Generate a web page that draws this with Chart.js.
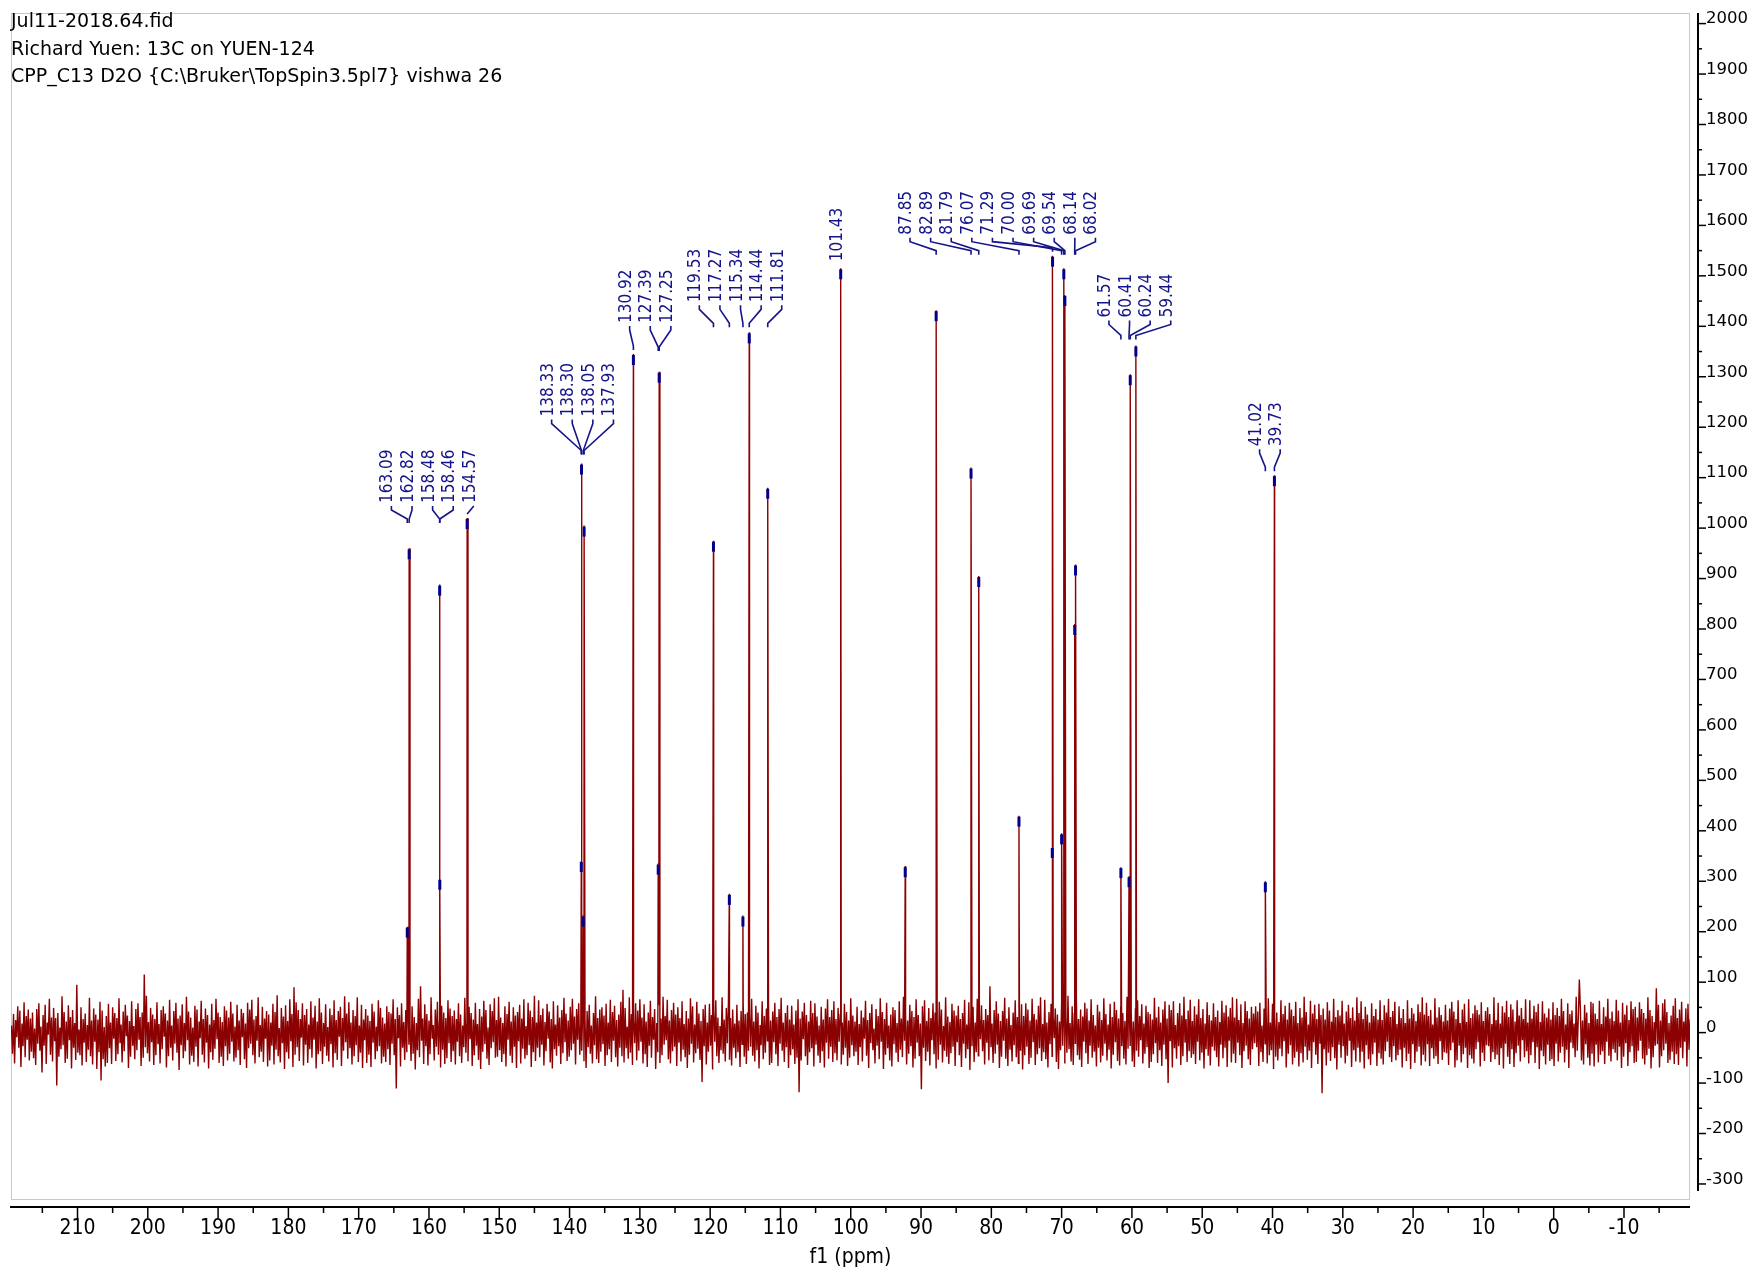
<!DOCTYPE html>
<html>
<head>
<meta charset="utf-8">
<script src="https://cdn.jsdelivr.net/npm/chart.js@4.4.1/dist/chart.umd.min.js"></script>
<style>
  html, body { margin: 0; padding: 0; background: #fff; }
  #quadro { position: relative; width: 1760px; height: 1272px; }
  #cabecalho { position: absolute; left: 11px; top: 7px; font-family: "DejaVu Sans", sans-serif; font-size: 19px; line-height: 27.5px; color: #000; white-space: pre; }
</style>
</head>
<body>
<div id="quadro">
  <canvas id="espectro" width="1760" height="1272"></canvas>
  <div id="cabecalho">Jul11-2018.64.fid
Richard Yuen: 13C on YUEN-124
CPP_C13 D2O {C:\Bruker\TopSpin3.5pl7} vishwa 26</div>
</div>
<script>
// ruído da linha de base (estimado do espectro), um valor a cada 0.15 ppm
const ruido = [
  14,-42,37,-61,25,-9,52,-30,44,-68,18,-27,60,-49,33,-14,46,-55,28,-38,
  40,-51,8,-64,47,-22,58,-36,12,-79,35,-26,55,-62,20,-4,67,-44,30,-57,
  49,-17,29,-105,39,-48,10,-33,72,-25,41,-60,22,-52,54,-15,31,-71,45,-30,
  19,-54,95,-40,6,-45,50,-65,27,-20,38,-58,15,-34,69,-47,24,-63,48,-18,
  36,-72,26,-39,61,-95,44,-53,11,-67,33,-60,57,-31,20,-62,50,-12,39,-56,
  29,-43,68,-21,16,-59,42,-37,55,-7,34,-70,23,-48,62,-26,13,-53,47,-35,
  58,-14,31,-66,40,-50,115,-29,73,-41,21,-57,49,-19,36,-64,27,-45,60,-23,
  17,-61,45,-33,52,-8,38,-69,24,-47,65,-30,14,-55,43,-22,59,-40,28,-74,
  34,-25,56,-51,19,-37,71,-15,42,-63,30,-46,10,-58,53,-28,46,-67,22,-11,
  63,-44,27,-59,48,-20,35,-71,16,-39,57,-54,25,-32,67,-13,40,-60,31,-48,
  21,-66,52,-27,44,-55,30,-42,61,-18,38,-57,12,-50,55,-35,24,-64,47,-9,
  39,-53,18,-70,59,-31,46,-22,65,-45,26,-61,33,-16,70,-49,15,-38,51,-58,
  28,-12,43,-67,36,-55,20,-26,57,-63,41,-34,74,-47,9,-59,49,-21,32,-72,
  54,-39,23,-52,66,-17,37,-68,90,-44,60,-29,45,-56,27,-10,58,-65,35,-24,
  47,-60,16,-33,62,-50,30,-14,53,-71,22,-43,68,-37,40,-62,19,-28,56,-46,
  11,-57,48,-23,35,-69,64,-41,25,-54,43,-8,51,-66,29,-36,72,-19,38,-52,
  60,-31,20,-63,45,-47,33,-25,70,-58,14,-40,55,-70,26,-15,47,-60,34,-44,
  23,-68,57,-20,42,-53,12,-37,64,-27,49,-61,30,-48,18,-58,52,-33,41,-64,
  38,-22,66,-45,27,-111,50,-11,35,-67,58,-30,21,-54,45,-39,61,-24,16,-56,
  52,-42,31,-73,19,-35,67,-49,92,-16,28,-62,56,-27,37,-65,24,-43,70,-12,
  15,-55,46,-28,61,-44,22,-69,53,-34,40,-62,29,-51,64,-21,48,-58,33,-37,
  44,-63,27,-18,58,-47,36,-60,14,-29,69,-40,24,-57,51,-13,39,-66,26,-45,
  59,-26,17,-54,47,-72,32,-38,63,-23,45,-52,10,-64,56,-31,43,-19,68,-50,
  25,-48,71,-35,30,-58,19,-43,52,-67,37,-14,61,-46,22,-60,50,-28,34,-70,
  41,-17,55,-61,28,-32,66,-52,13,-45,59,-25,44,-68,31,-39,73,-56,20,-30,
  64,-49,35,-24,48,-65,21,-37,57,-12,42,-59,27,-71,62,-33,16,-46,54,-27,
  30,-62,45,-41,69,-19,38,-56,24,-48,51,-35,67,-22,32,-63,47,-14,58,-44,
  18,-36,60,-57,26,-70,43,-29,55,-42,14,-61,39,-25,72,-53,29,-60,46,-38,
  50,-23,34,-66,57,-45,20,-33,65,-58,41,-16,53,-49,25,-67,36,-30,61,-47,
  85,-59,49,-31,12,-52,70,-40,37,-64,23,-21,58,-55,44,-36,66,-18,30,-61,
  56,-43,22,-68,40,-26,63,-50,31,-14,47,-72,19,-39,54,-60,28,-45,71,-24,
  33,-15,65,-53,24,-61,45,-37,59,-28,36,-66,50,-20,29,-57,62,-34,17,-49,
  43,-70,28,-44,68,-22,52,-59,16,-41,61,-32,38,-54,23,-98,47,-27,55,-63,
  20,-38,57,-26,35,-73,41,-18,64,-47,30,-60,13,-35,70,-42,26,-57,49,-21,
  61,-54,29,-65,46,-30,18,-51,55,-39,24,-68,43,-23,58,-48,37,-62,40,-36,
  36,-28,67,-46,22,-57,53,-35,40,-71,15,-25,62,-53,33,-40,48,-16,57,-64,
  24,-60,42,-19,59,-43,31,-66,47,-22,69,-36,20,-58,39,-29,54,-70,26,-45,
  53,-33,16,-62,44,-50,66,-118,28,-55,42,-13,59,-47,35,-64,22,-39,63,-31,
  39,-67,58,-24,32,-46,14,-60,51,-37,26,-69,48,-20,66,-52,31,-28,45,-58,
  62,-41,27,-55,49,-18,36,-63,20,-44,57,-30,41,-66,24,-50,68,-25,34,-47,
  22,-38,51,-64,17,-29,44,-57,30,-12,63,-46,25,-70,39,-21,56,-35,8,-61,
  47,-26,33,-53,68,-18,41,-72,27,-44,59,-31,14,-55,36,-67,50,-23,45,-40,
  19,-58,62,-34,28,-49,71,-16,37,-63,24,-42,55,-27,43,-69,31,-52,66,-20,
  35,-47,18,-112,52,-30,64,-56,23,-38,49,-65,29,-15,58,-43,40,-71,26,-54,
  61,-24,46,-59,13,-36,70,-48,32,-62,21,-41,57,-28,44,-66,34,-19,53,-45,
  27,-68,39,-22,65,-51,16,-33,60,-74,42,-27,51,-58,20,-39,67,-46,30,-13,
  54,-37,25,-63,47,-20,35,-55,92,-29,18,-60,45,-42,62,-24,38,-70,23,-48,
  43,-16,69,-52,28,-66,50,-34,15,-57,40,-25,64,-49,31,-61,21,-36,56,-73,
  33,-45,58,-28,46,-62,24,-50,67,-19,37,-64,26,-43,53,-31,70,-56,17,-39,
  65,-53,20,-69,41,-23,57,-47,30,-11,48,-58,36,-72,22,-35,61,-26,44,-60,
  29,-40,73,-33,19,-57,52,-64,38,-21,63,-45,27,-54,46,-68,32,-18,59,-41,
  48,-62,24,-26,66,-50,35,-38,14,-67,55,-30,42,-59,25,-46,68,-22,37,-55,
  16,-34,57,-71,31,-44,61,-19,45,-56,28,-65,50,-27,39,-52,23,-63,71,-32,
  60,-25,40,-57,22,-68,47,-36,64,-48,33,-15,56,-61,18,-42,53,-29,41,-70,
  37,-58,26,-43,69,-21,30,-60,51,-35,20,-66,46,-24,62,-53,28,-100,55,-17,
  45,-69,62,-31,15,-52,39,-27,58,-64,34,-47,71,-20,27,-58,44,-37,65,-50,
  23,-43,52,-62,36,-18,66,-55,29,-40,47,-71,18,-33,60,-46,35,-65,24,-28,
  58,-36,31,-49,44,-67,21,-24,63,-51,40,-30,54,-68,32,-16,49,-59,70,-42,
  30,-60,67,-20,25,-45,56,-70,19,-37,62,-26,43,-53,28,-64,51,-33,38,-21,
  52,-29,42,-66,59,-39,14,-58,48,-22,35,-61,68,-45,20,-35,57,-72,29,-48,
  40,-55,21,-32,64,-47,37,-17,53,-69,26,-42,59,-25,46,-63,33,-50,61,-38,
  19,-67,49,-41,30,-59,71,-28,41,-54,16,-36,63,-70,38,-19,55,-44,27,-62,
  57,-22,35,-120,48,-33,26,-65,60,-40,44,-56,22,-29,67,-51,31,-73,45,-24,
  34,-50,63,-27,18,-61,42,-46,55,-16,29,-68,50,-35,24,-57,70,-30,39,-59,
  62,-38,27,-71,51,-25,36,-53,20,-64,58,-43,33,-20,47,-66,26,-41,64,-52,
  25,-63,54,-37,40,-18,67,-49,31,-58,43,-27,61,-55,17,-45,52,-34,29,-69,
  47,-30,19,-56,64,-42,28,-72,49,-23,38,-60,23,-38,56,-28,41,-65,70,-44,
  36,-57,59,-23,33,-66,45,-31,16,-52,68,-47,30,-62,50,-17,35,-54,22,-39,
  55,-41,24,-64,48,-35,61,-20,42,-69,27,-55,64,-26,19,-59,46,-43,57,-30,
  21,-70,66,-45,29,-52,38,-61,54,-33,45,-19,36,-67,60,-40,23,-56,43,-25,
  50,-27,37,-58,17,-39,70,-53,25,-44,59,-64,18,-31,52,-71,40,-22,63,-48,
  31,-62,56,-33,46,-68,22,-41,64,-26,34,-57,49,-15,27,-49,66,-37,20,-61,
  64,-45,28,-19,53,-60,41,-29,57,-72,21,-36,62,-47,38,-63,30,-24,48,-56,
  26,-53,60,-66,35,-22,49,-57,33,-40,67,-28,43,-59,16,-34,58,-70,37,-20,
  44,-31,18,-49,71,-36,29,105,46,-55,24,-63,55,-23,40,-50,19,-65,61,-42,
  58,-67,38,-24,27,-59,63,-44,17,-37,50,-62,32,-18,67,-46,28,-57,42,-33,
  23,-40,65,-55,44,-28,20,-70,59,-48,36,-21,54,-66,25,-39,62,-27,47,-60,
  51,-58,30,-36,60,-16,47,-52,39,-63,28,-45,70,-32,45,-71,33,-49,21,-26,
  88,-23,55,-69,24,-47,58,-35,66,-22,41,-60,19,-54,34,-38,53,-62,68,-43,
  29,-64,46,-30,61,-51,22,-18,48,-67,57,-34,26,-58,63,-25,39,-46,31,-53
];
const ruidoInicio = 219.4;  // ppm da primeira amostra
const ruidoPasso = 0.15;    // ppm entre amostras

// picos
const picosPpm = [163.09, 162.82, 158.48, 158.46, 154.57, 138.33, 138.30, 138.05, 137.93,
  130.92, 127.39, 127.25, 119.53, 117.27, 115.34, 114.44, 111.81, 101.43, 92.25,
  87.85, 82.89, 81.79, 76.07, 71.33, 71.29, 70.00, 69.69, 69.54, 68.14, 68.02,
  61.57, 60.41, 60.24, 59.44, 41.02, 39.73];
const picosAltura = [210, 960, 888, 305, 1020, 340, 1128, 232, 1005,
  1345, 335, 1310, 975, 275, 232, 1388, 1080, 1515, 330,
  1432, 1120, 905, 430, 368, 1540, 395, 1515, 1462, 810, 928,
  328, 310, 1305, 1362, 300, 1105];
const picosRotulo = ['163.09', '162.82', '158.48', '158.46', '154.57', '138.33', '138.30', '138.05', '137.93',
  '130.92', '127.39', '127.25', '119.53', '117.27', '115.34', '114.44', '111.81', '101.43', '',
  '87.85', '82.89', '81.79', '76.07', '', '71.29', '70.00', '69.69', '69.54', '68.14', '68.02',
  '61.57', '60.41', '60.24', '59.44', '41.02', '39.73'];
const gruposRotulos = [
  ['163.09', '162.82', '158.48', '158.46', '154.57'],
  ['138.33', '138.30', '138.05', '137.93'],
  ['130.92', '127.39', '127.25'],
  ['119.53', '117.27', '115.34', '114.44', '111.81'],
  ['101.43'],
  ['87.85', '82.89', '81.79', '76.07', '71.29', '70.00', '69.69', '69.54', '68.14', '68.02'],
  ['61.57', '60.41', '60.24', '59.44'],
  ['41.02', '39.73']
];

// eixos
const ticksX = [210, 200, 190, 180, 170, 160, 150, 140, 130, 120, 110, 100, 90, 80, 70, 60, 50, 40, 30, 20, 10, 0, -10];
const ticksY = [-300, -200, -100, 0, 100, 200, 300, 400, 500, 600, 700, 800, 900, 1000,
  1100, 1200, 1300, 1400, 1500, 1600, 1700, 1800, 1900, 2000];

// layout dos rótulos (px)
const ESPACO = 20.6;
const FOLGA = 13.5;
const subida = [12, 44, 28, 27, 4, 18, 25, 26];
const queda = [17, 35, 25, 22, 4, 17, 19, 22];

const FONTE_ESTREITA = '"Liberation Sans Narrow", "DejaVu Sans", sans-serif';
const AZUL = '#14148a';
const VERMELHO = '#8b0000';

// espectro = ruído + picos, ordenado por ppm
const pontos = ruido.map((v, i) => ({ x: +(ruidoInicio - i * ruidoPasso).toFixed(2), y: v }));
picosPpm.forEach((p, i) => pontos.push({ x: p, y: picosAltura[i] }));
pontos.sort((a, b) => b.x - a.x);

function linha(ctx, x1, y1, x2, y2) {
  ctx.beginPath();
  ctx.moveTo(x1, y1);
  ctx.lineTo(x2, y2);
  ctx.stroke();
}

const extras = {
  id: 'extras',
  beforeDatasetsDraw(chart) {
    const { ctx, chartArea: a } = chart;
    ctx.save();
    ctx.strokeStyle = '#c8c8c8';
    ctx.lineWidth = 1;
    ctx.strokeRect(a.left + 0.5, a.top + 0.5, a.right - a.left - 1, a.bottom - a.top);
    ctx.restore();
  },
  afterDatasetsDraw(chart) {
    const { ctx, scales: { x, y } } = chart;

    // marcas azuis no topo dos picos
    ctx.save();
    ctx.strokeStyle = '#00008b';
    ctx.lineWidth = 3;
    picosPpm.forEach((p, i) => {
      const px = x.getPixelForValue(p);
      const py = y.getPixelForValue(picosAltura[i]);
      linha(ctx, px, py + 1, px, py + 11);
    });
    ctx.restore();

    // posição horizontal dos blocos de rótulos
    const blocos = gruposRotulos.map((nomes, k) => {
      const idx = nomes.map(n => picosRotulo.indexOf(n));
      const xs = idx.map(i => x.getPixelForValue(picosPpm[i]));
      const c = xs.reduce((s, v) => s + v, 0) / xs.length;
      return { k, idx, c, n: idx.length };
    });
    blocos.sort((a, b) => a.c - b.c);
    for (let volta = 0; volta < 10; volta++) {
      for (let j = 0; j < blocos.length - 1; j++) {
        const A = blocos[j], B = blocos[j + 1];
        const sobra = A.c + (A.n - 1) / 2 * ESPACO + FOLGA - (B.c - (B.n - 1) / 2 * ESPACO);
        if (sobra > 0.1) {
          A.c -= sobra * A.n / (A.n + B.n);
          B.c += sobra * B.n / (A.n + B.n);
        }
      }
    }

    ctx.save();
    ctx.strokeStyle = AZUL;
    ctx.fillStyle = AZUL;
    ctx.lineWidth = 1.6;
    ctx.font = 'condensed 17px ' + FONTE_ESTREITA;
    ctx.fontStretch = 'condensed';
    blocos.forEach(b => {
      const topos = b.idx.map(i => y.getPixelForValue(picosAltura[i]));
      const yb = Math.min(...topos) - subida[b.k];
      b.idx.forEach((i, m) => {
        const xl = b.c + (m - (b.n - 1) / 2) * ESPACO;
        const xp = x.getPixelForValue(picosPpm[i]);
        const ye = Math.min(yb + queda[b.k], topos[m] - 4);
        ctx.beginPath();
        if (ye - yb > 10) {
          ctx.moveTo(xl, yb);
          ctx.lineTo(xl, yb + 4);
          ctx.lineTo(xp, ye - 4);
          ctx.lineTo(xp, ye);
        } else {
          ctx.moveTo(xl, yb);
          ctx.lineTo(xp, ye);
        }
        ctx.stroke();
        ctx.save();
        ctx.translate(xl + 1, yb - 3);
        ctx.rotate(-Math.PI / 2);
        ctx.textAlign = 'left';
        ctx.textBaseline = 'alphabetic';
        ctx.fillText(picosRotulo[i], 0, 0);
        ctx.restore();
      });
    });
    ctx.restore();
  },
  afterDraw(chart) {
    const { ctx, chartArea: a, scales: { x, y } } = chart;
    ctx.save();
    ctx.strokeStyle = '#000';

    // eixo x (abaixo do quadro)
    const yEixo = a.bottom + 8;
    ctx.lineWidth = 2;
    linha(ctx, 10, yEixo, a.right, yEixo);
    ctx.lineWidth = 1.5;
    ticksX.forEach((v, j) => {
      const px = x.getPixelForValue(v);
      linha(ctx, px, yEixo, px, yEixo + 11);
      const meio = j < ticksX.length - 1 ? (v + ticksX[j + 1]) / 2 : v - 5;
      const pm = x.getPixelForValue(meio);
      linha(ctx, pm, yEixo, pm, yEixo + 6);
      if (j === 0) {
        const pa = x.getPixelForValue(v + 5);
        linha(ctx, pa, yEixo, pa, yEixo + 6);
      }
    });

    // eixo y (à direita do quadro)
    const xEixo = a.right + 8;
    ctx.lineWidth = 2;
    linha(ctx, xEixo, a.top, xEixo, a.bottom - 8);
    ctx.lineWidth = 1.5;
    ticksY.forEach((v, j) => {
      const py = y.getPixelForValue(v);
      linha(ctx, xEixo, py, xEixo + 8, py);
      if (j < ticksY.length - 1) {
        const pm = y.getPixelForValue((v + ticksY[j + 1]) / 2);
        linha(ctx, xEixo, pm, xEixo + 4, pm);
      }
    });
    ctx.restore();
  }
};

const ctx = document.getElementById('espectro').getContext('2d');
const grafico = new Chart(ctx, {
  type: 'line',
  data: {
    datasets: [{
      data: pontos,
      borderColor: VERMELHO,
      borderWidth: 1.4,
      pointRadius: 0,
      tension: 0,
      fill: false
    }]
  },
  options: {
    responsive: false,
    devicePixelRatio: 1,
    animation: false,
    layout: { padding: { left: 11, top: 13, right: 0, bottom: 0 } },
    plugins: {
      legend: { display: false },
      tooltip: { enabled: false }
    },
    scales: {
      x: {
        type: 'linear',
        reverse: true,
        min: -19.39,
        max: 219.46,
        afterFit(s) { s.height = 73; s.paddingLeft = 0; s.paddingRight = 0; },
        afterBuildTicks(s) { s.ticks = ticksX.map(v => ({ value: v })); },
        grid: { display: false, drawTicks: false },
        border: { display: false },
        ticks: {
          autoSkip: false,
          maxRotation: 0,
          padding: 17,
          color: '#000',
          callback: v => String(v),
          font: { family: FONTE_ESTREITA, size: 21, weight: 'condensed' }
        },
        title: {
          display: true,
          text: 'f1 (ppm)',
          color: '#000',
          font: { family: FONTE_ESTREITA, size: 21, weight: 'condensed' },
          padding: { top: 0, bottom: 2 }
        }
      },
      y: {
        type: 'linear',
        position: 'right',
        min: -329.8,
        max: 2021,
        afterFit(s) { s.width = 70; s.paddingTop = 0; s.paddingBottom = 0; },
        afterBuildTicks(s) { s.ticks = ticksY.map(v => ({ value: v })); },
        grid: { display: false, drawTicks: false },
        border: { display: false },
        ticks: {
          padding: 16,
          labelOffset: -4.5,
          color: '#000',
          callback: v => String(v),
          font: { family: '"DejaVu Sans", sans-serif', size: 16.5 }
        }
      }
    }
  },
  plugins: [extras]
});
</script>
</body>
</html>
